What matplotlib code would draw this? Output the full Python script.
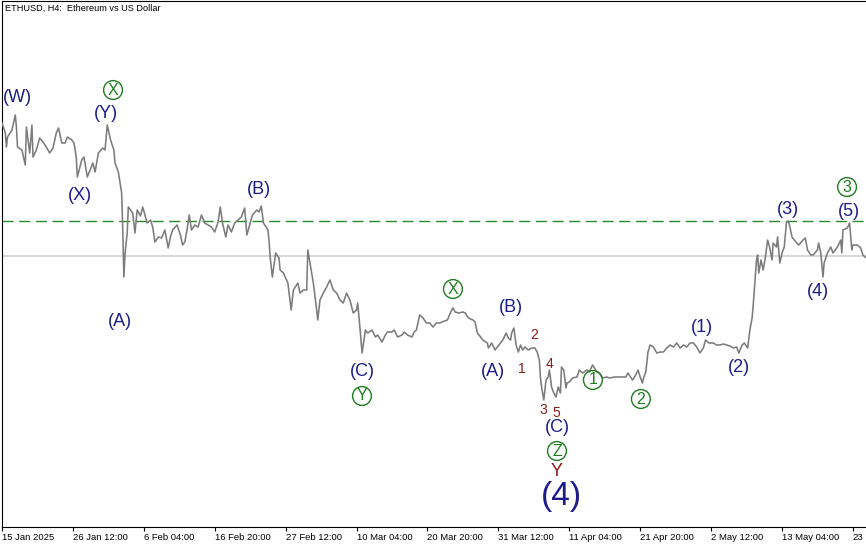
import matplotlib
matplotlib.use("Agg")
import matplotlib.pyplot as plt

# H4 close prices (bar index from 15 Jan 20:00 -> price)
bars = [
    0, 3, 4, 5, 9, 12, 13, 14, 18, 21, 22, 25, 27, 28, 31, 34, 37, 40, 43, 46,
    49, 51, 54, 57, 59, 63, 65, 67, 68, 72, 74, 77, 82, 84, 87, 91, 93, 95, 98, 101,
    102, 105, 108, 109, 110, 111, 112, 113, 114, 118, 120, 122, 125, 127, 131, 134, 136, 138, 141, 144,
    147, 150, 152, 154, 158, 161, 163, 165, 167, 169, 171, 174, 177, 180, 183, 186, 189, 192, 195, 197,
    199, 202, 204, 207, 210, 213, 216, 219, 221, 223, 226, 230, 232, 234, 236, 240, 241, 242, 244, 247,
    250, 251, 254, 258, 261, 263, 267, 269, 272, 275, 276, 279, 281, 284, 285, 287, 290, 293, 296, 299,
    302, 305, 308, 311, 314, 317, 320, 321, 323, 325, 328, 330, 334, 337, 339, 343, 346, 348, 352, 354,
    357, 361, 363, 366, 370, 372, 374, 377, 380, 383, 386, 389, 392, 395, 397, 402, 405, 407, 409, 412,
    416, 418, 421, 425, 427, 429, 432, 434, 438, 439, 442, 445, 447, 450, 452, 455, 457, 459, 460, 462,
    464, 466, 468, 470, 472, 475, 478, 481, 483, 485, 486, 487, 489, 491, 493, 494, 495, 496, 498, 500,
    502, 504, 505, 507, 509, 510, 512, 515, 519, 521, 524, 528, 530, 533, 537, 539, 542, 546, 548, 553,
    557, 563, 565, 569, 572, 574, 576, 578, 579, 581, 582, 583, 585, 588, 591, 594, 597, 600, 603, 606,
    609, 612, 615, 618, 621, 624, 627, 630, 633, 635, 638, 642, 645, 648, 651, 654, 657, 660, 663, 665,
    668, 670, 673, 675, 677, 678, 679, 681, 682, 683, 685, 687, 689, 691, 693, 695, 696, 699, 700, 702,
    704, 706, 708, 710, 713, 715, 719, 723, 725, 727, 730, 732, 736, 737, 739, 741, 742, 745, 748, 750,
    754, 757, 758, 759, 763, 765, 767, 768, 772, 775, 777, 780,
]
closes = [
    3359, 3289, 3191, 3261, 3310, 3415, 3331, 3191, 3170, 3065, 3331, 3149, 3345, 3121, 3170, 3254, 3226, 3191, 3149, 3184,
    3289, 3324, 3219, 3219, 3261, 3240, 3219, 3121, 2981, 3100, 3121, 2981, 3079, 3016, 3149, 3184, 3170, 3345, 3240, 3170,
    3079, 3016, 2869, 2610, 2281, 2435, 2519, 2589, 2771, 2729, 2589, 2750, 2708, 2771, 2659, 2680, 2631, 2526, 2561, 2554,
    2610, 2484, 2561, 2610, 2645, 2575, 2505, 2526, 2610, 2715, 2610, 2645, 2631, 2715, 2659, 2645, 2631, 2596, 2666, 2771,
    2659, 2561, 2645, 2596, 2659, 2680, 2701, 2764, 2575, 2631, 2715, 2750, 2736, 2778, 2659, 2610, 2540, 2421, 2281, 2449,
    2414, 2330, 2309, 2239, 2050, 2190, 2239, 2169, 2190, 2190, 2470, 2330, 2239, 2050, 1980, 2120, 2169, 2211, 2260, 2190,
    2169, 2120, 2099, 2169, 2120, 2029, 2050, 2099, 1931, 1749, 1910, 1889, 1910, 1861, 1875, 1826, 1875, 1896, 1896, 1910,
    1861, 1875, 1896, 1875, 1861, 1896, 1910, 2015, 1994, 1959, 1959, 1931, 1959, 1959, 1966, 1980, 2036, 2064, 2036, 2029,
    2036, 2029, 1994, 1980, 1966, 1889, 1861, 1840, 1819, 1784, 1819, 1770, 1791, 1819, 1840, 1889, 1854, 1840, 1889, 1924,
    1805, 1756, 1805, 1770, 1791, 1770, 1784, 1784, 1756, 1700, 1574, 1511, 1420, 1560, 1581, 1630, 1574, 1511, 1469, 1441,
    1511, 1469, 1651, 1630, 1504, 1539, 1546, 1574, 1581, 1630, 1609, 1630, 1616, 1665, 1616, 1609, 1574, 1581, 1574, 1581,
    1581, 1581, 1609, 1560, 1595, 1630, 1581, 1539, 1574, 1616, 1679, 1756, 1805, 1791, 1749, 1756, 1756, 1784, 1805, 1791,
    1819, 1784, 1805, 1791, 1819, 1819, 1791, 1749, 1784, 1840, 1819, 1819, 1805, 1805, 1812, 1805, 1798, 1784, 1791, 1749,
    1805, 1819, 1784, 1910, 1994, 2085, 2190, 2400, 2435, 2309, 2400, 2330, 2421, 2540, 2484, 2400, 2519, 2491, 2561, 2379,
    2449, 2491, 2659, 2673, 2561, 2540, 2505, 2540, 2554, 2470, 2435, 2435, 2470, 2519, 2449, 2281, 2379, 2449, 2491, 2449,
    2491, 2540, 2449, 2610, 2624, 2659, 2470, 2505, 2505, 2484, 2435, 2414,
]

level_price = 2673   # green dashed level
bid_price = 2428     # last price line

tick_bars = [0, 64, 128, 192, 256, 320, 384, 448, 512, 576, 640, 704, 768]
tick_labels = ["15 Jan 2025", "26 Jan 12:00", "6 Feb 04:00", "16 Feb 20:00", "27 Feb 12:00",
               "10 Mar 04:00", "20 Mar 20:00", "31 Mar 12:00", "11 Apr 04:00", "21 Apr 20:00",
               "2 May 12:00", "13 May 04:00", "23"]

# wave labels: (text, bar, price)
navy_labels = [
    ("(W)", 13.6, 3534), ("(Y)", 93.9, 3429), ("(X)", 70.4, 2855), ("(A)", 106.5, 1966),
    ("(B)", 232, 2890), ("(C)", 324.9, 1616), ("(A)", 443.2, 1623), ("(B)", 459.4, 2071),
    ("(C)", 500.9, 1224), ("(1)", 631.8, 1924), ("(2)", 665.2, 1644), ("(3)", 709.4, 2750),
    ("(4)", 736.5, 2176), ("(5)", 764.5, 2743),
]
circle_labels = [
    ("X", 100.2, 3590), ("Y", 324.9, 1448), ("X", 407, 2197), ("Z", 500.9, 1063),
    ("1", 533.3, 1560), ("2", 576.6, 1427), ("3", 762.7, 2911),
]
red_labels = [
    ("1", 469.3, 1637), ("2", 480.2, 1875), ("3", 488.3, 1350), ("4", 493.7, 1672),
    ("5", 500, 1329),
]
big_labels = [("Y", 500.9, 916, 13), ("(4)", 504.6, 741, 24)]

NAVY = "#1c1c8a"
GREEN = "#1e7d1e"
RED = "#8b1a1a"
TXT = ["Liberation Sans", "DejaVu Sans"]

fig = plt.figure(figsize=(8.66, 5.45), dpi=100)
ax = fig.add_axes([2 / 866, 18 / 545, 864 / 866, 526 / 545])

ax.plot(bars, closes, color="#7c7c7c", lw=1.15, zorder=3)
ax.axhline(bid_price, color="#d8d8d8", lw=1.5, zorder=1)
ax.axhline(level_price, color="#2a8a2a", lw=1.0, ls=(0, (8, 4)), zorder=2)

for t, x, y in navy_labels:
    ax.text(x, y, t, color=NAVY, fontsize=13, family=TXT, ha="center", va="center", zorder=5)
for t, x, y in circle_labels:
    ax.text(x, y, t, color=GREEN, fontsize=11.5, family=TXT, ha="center", va="center", zorder=5,
            bbox=dict(boxstyle="circle,pad=0.12", fc="none", ec=GREEN, lw=1.0))
for t, x, y in red_labels:
    ax.text(x, y, t, color=RED, fontsize=10, family=TXT, ha="center", va="center", zorder=5)
for t, x, y, s in big_labels:
    ax.text(x, y, t, color=RED if t == "Y" else NAVY, fontsize=s, family=TXT,
            ha="center", va="center", zorder=5)

ax.set_xlim(0, 779.8)
ax.set_ylim(531, 4213)
ax.set_yticks([])
ax.set_xticks(tick_bars)
ax.set_xticklabels(tick_labels, family=TXT, fontsize=6.8, ha="left")
ax.tick_params(axis="x", length=3, width=0.8, pad=1, colors="black")
ax.spines["right"].set_visible(False)
for s in ["left", "top", "bottom"]:
    ax.spines[s].set_linewidth(0.8)

fig.text(5 / 866, 1 - 8 / 545, "ETHUSD, H4:  Ethereum vs US Dollar", family=TXT,
         fontsize=6.6, ha="left", va="center")

fig.savefig("out.png", dpi=100)
